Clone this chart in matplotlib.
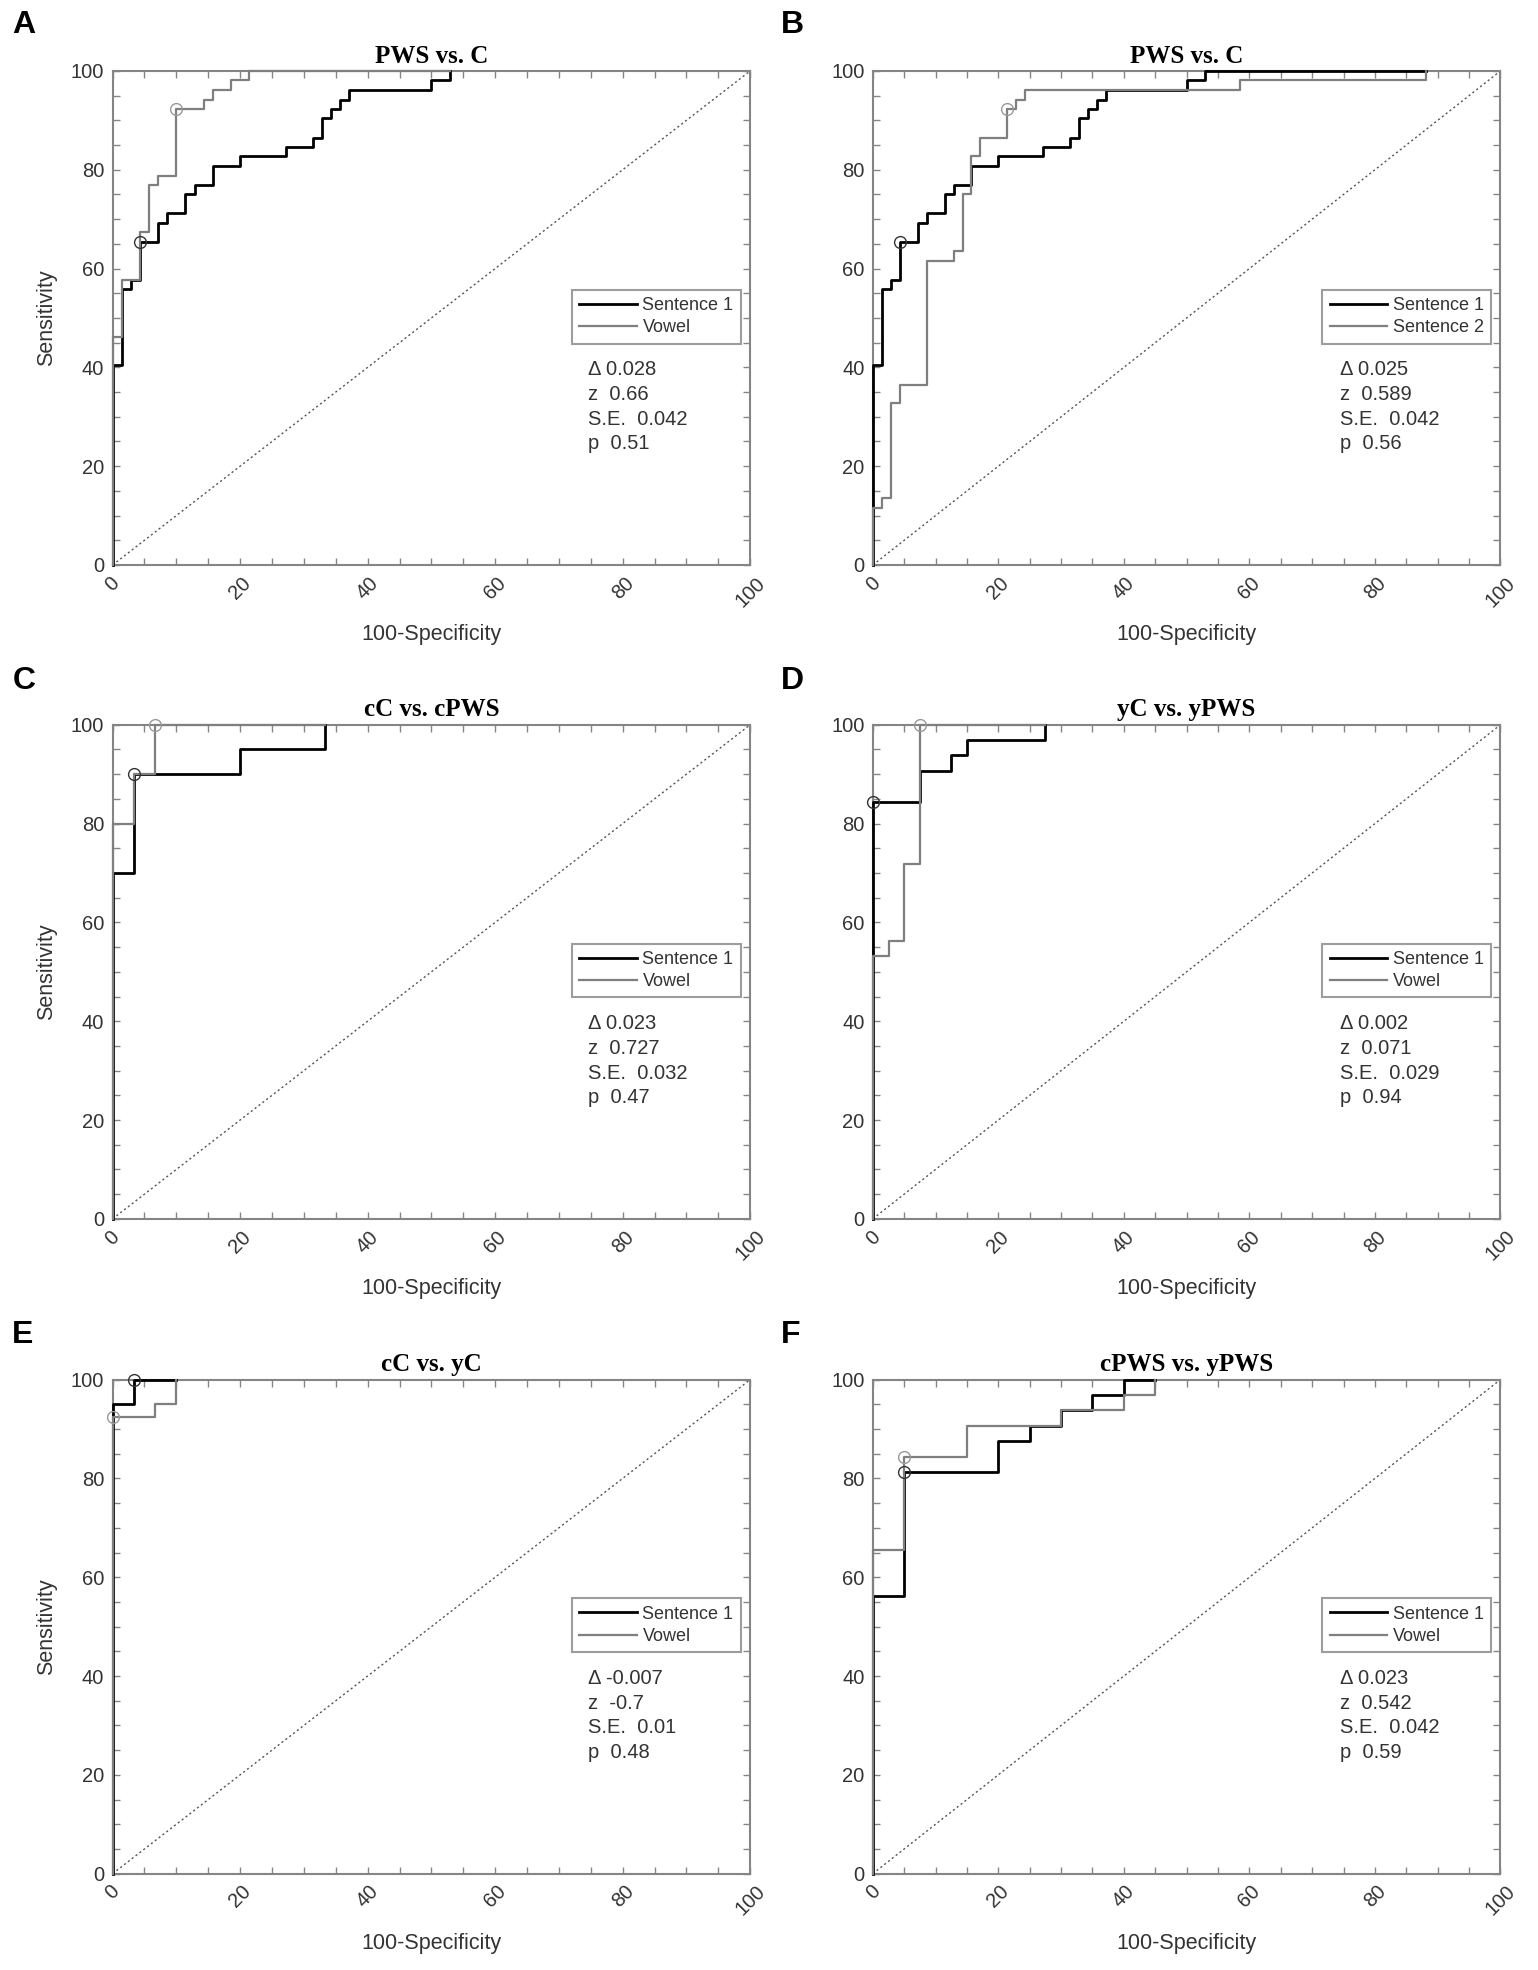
import matplotlib
matplotlib.use("Agg")
import matplotlib.pyplot as plt
from matplotlib.ticker import MultipleLocator

plt.rcParams['font.family'] = ['Liberation Sans', 'DejaVu Sans']

# ---------------- data (ROC step corners: 100-specificity, sensitivity) ----------------
titles = ["PWS vs. C", "PWS vs. C", "cC vs. cPWS", "yC vs. yPWS", "cC vs. yC", "cPWS vs. yPWS"]
letters = ["A", "B", "C", "D", "E", "F"]
series1_names = ["Sentence 1"] * 6
series2_names = ["Vowel", "Sentence 2", "Vowel", "Vowel", "Vowel", "Vowel"]

# Panel A
a1_x = [0, 0, 1.43, 2.86, 4.29, 7.14, 8.57, 11.43, 12.86, 15.71, 20.0, 27.14, 31.43, 32.86, 34.29, 35.71, 37.14, 50.0, 52.86]
a1_y = [0, 40.4, 55.8, 57.7, 65.4, 69.2, 71.2, 75.0, 76.9, 80.8, 82.7, 84.6, 86.5, 90.4, 92.3, 94.2, 96.2, 98.1, 100]
a2_x = [0, 0, 1.43, 4.29, 5.71, 7.14, 10.0, 14.29, 15.71, 18.57, 21.43, 52.86]
a2_y = [0, 46.2, 57.7, 67.3, 76.9, 78.8, 92.3, 94.2, 96.2, 98.1, 100, 100]
# Panel B
b1_x = [0, 0, 1.43, 2.86, 4.29, 7.14, 8.57, 11.43, 12.86, 15.71, 20.0, 27.14, 31.43, 32.86, 34.29, 35.71, 37.14, 50.0, 52.86, 88.1]
b1_y = [0, 40.4, 55.8, 57.7, 65.4, 69.2, 71.2, 75.0, 76.9, 80.8, 82.7, 84.6, 86.5, 90.4, 92.3, 94.2, 96.2, 98.1, 100, 100]
b2_x = [0, 0, 1.43, 2.86, 4.29, 8.57, 12.86, 14.29, 15.71, 17.14, 21.43, 22.86, 24.29, 58.57, 88.1]
b2_y = [0, 11.5, 13.5, 32.7, 36.5, 61.5, 63.5, 75.0, 82.7, 86.5, 92.3, 94.2, 96.2, 98.1, 100]
# Panel C
c1_x = [0, 0, 3.33, 20.0, 33.33]
c1_y = [0, 70, 90, 95, 100]
c2_x = [0, 0, 3.33, 6.67, 33.33]
c2_y = [0, 80, 90, 100, 100]
# Panel D
d1_x = [0, 0, 7.5, 12.5, 15.0, 27.5]
d1_y = [0, 84.4, 90.6, 93.8, 96.9, 100]
d2_x = [0, 0, 2.5, 5.0, 7.5, 27.5]
d2_y = [0, 53.1, 56.3, 71.9, 100, 100]
# Panel E
e1_x = [0, 0, 3.33, 10.0]
e1_y = [0, 95, 100, 100]
e2_x = [0, 0, 6.67, 10.0]
e2_y = [0, 92.5, 95, 100]
# Panel F
f1_x = [0, 0, 5, 20, 25, 30, 35, 40, 45]
f1_y = [0, 56.3, 81.3, 87.5, 90.6, 93.8, 96.9, 100, 100]
f2_x = [0, 0, 5, 15, 30, 40, 45]
f2_y = [0, 65.6, 84.4, 90.6, 93.8, 96.9, 100]

# optimal operating points (circles)
opt1 = [(4.29, 65.4), (4.29, 65.4), (3.33, 90), (0, 84.4), (3.33, 100), (5, 81.3)]
opt2 = [(10.0, 92.3), (21.43, 92.3), (6.67, 100), (7.5, 100), (0, 92.5), (5, 84.4)]

stats_delta = ["0.028", "0.025", "0.023", "0.002", "-0.007", "0.023"]
stats_z = ["0.66", "0.589", "0.727", "0.071", "-0.7", "0.542"]
stats_se = ["0.042", "0.042", "0.032", "0.029", "0.01", "0.042"]
stats_p = ["0.51", "0.56", "0.47", "0.94", "0.48", "0.59"]

curves1 = [(a1_x, a1_y), (b1_x, b1_y), (c1_x, c1_y), (d1_x, d1_y), (e1_x, e1_y), (f1_x, f1_y)]
curves2 = [(a2_x, a2_y), (b2_x, b2_y), (c2_x, c2_y), (d2_x, d2_y), (e2_x, e2_y), (f2_x, f2_y)]

# ---------------- layout ----------------
W, H = 15.38, 19.70
fig = plt.figure(figsize=(W, H), dpi=100)

col_left = [0.0732, 0.5675]
col_width = [0.4146, 0.4081]
row_bottom = [0.7132, 0.3813, 0.0489]
row_height = 0.2508
letter_x = [0.008, 0.508]
letter_top = [0.995, 0.662, 0.330]

AX_COL = '#858585'
TXT_COL = '#333333'
GRAY = '#7f7f7f'

for i in range(6):
    r, c = divmod(i, 2)
    ax = fig.add_axes([col_left[c], row_bottom[r], col_width[c], row_height])
    ax.set_xlim(0, 100)
    ax.set_ylim(0, 100)

    # chance line
    ax.plot([0, 100], [0, 100], linestyle=(0, (1.5, 2.0)), color='#555555', lw=1.0, zorder=1)

    x1, y1 = curves1[i]
    x2, y2 = curves2[i]
    ax.plot(x1, y1, drawstyle='steps-post', color='black', lw=2.0,
            label=series1_names[i], zorder=3, clip_on=False)
    ax.plot(x2, y2, drawstyle='steps-post', color=GRAY, lw=1.6,
            label=series2_names[i], zorder=4, clip_on=False)
    ax.plot([opt1[i][0]], [opt1[i][1]], 'o', mfc='none', mec='#333333', ms=8.5, mew=1.0,
            zorder=5, clip_on=False)
    ax.plot([opt2[i][0]], [opt2[i][1]], 'o', mfc='none', mec='#999999', ms=8.5, mew=1.0,
            zorder=5, clip_on=False)

    # ticks and spines
    ax.xaxis.set_major_locator(MultipleLocator(20))
    ax.yaxis.set_major_locator(MultipleLocator(20))
    ax.xaxis.set_minor_locator(MultipleLocator(5))
    ax.yaxis.set_minor_locator(MultipleLocator(5))
    ax.tick_params(which='both', direction='in', top=True, right=True, length=5,
                   width=1.0, color=AX_COL, labelsize=14.5, labelcolor=TXT_COL)
    ax.tick_params(axis='y', which='major', pad=6)
    ax.tick_params(axis='x', which='major', pad=6)
    for lab in ax.get_xticklabels():
        lab.set_rotation(45)
        lab.set_ha('center')
        lab.set_va('top')
    for sp in ax.spines.values():
        sp.set_color(AX_COL)
        sp.set_linewidth(1.5)

    ax.set_xlabel("100-Specificity", fontsize=15.5, color=TXT_COL, labelpad=10)
    if c == 0:
        ax.set_ylabel("Sensitivity", fontsize=15.5, color=TXT_COL, labelpad=10)
    ax.set_title(titles[i], fontsize=18, fontweight='bold', family='Liberation Serif',
                 color='black', pad=6)

    leg = ax.legend(loc='upper right', bbox_to_anchor=(0.985, 0.557), fontsize=13,
                    frameon=True, fancybox=False, handlelength=3.2, handletextpad=0.3,
                    borderpad=0.4, labelspacing=0.3, borderaxespad=0.0)
    leg.get_frame().set_edgecolor(AX_COL)
    leg.get_frame().set_linewidth(1.5)
    for t in leg.get_texts():
        t.set_color(TXT_COL)

    tx = 0.745
    lines = ["\u0394 " + stats_delta[i], "z  " + stats_z[i],
             "S.E.  " + stats_se[i], "p  " + stats_p[i]]
    for k, s in enumerate(lines):
        ax.text(tx, 0.395 - k * 0.05, s, transform=ax.transAxes, fontsize=14.5,
                color=TXT_COL, ha='left', va='center')

    fig.text(letter_x[c], letter_top[r], letters[i], fontsize=23, fontweight='bold',
             ha='left', va='top', color='black')

fig.savefig("out.png", dpi=100, facecolor='white')
